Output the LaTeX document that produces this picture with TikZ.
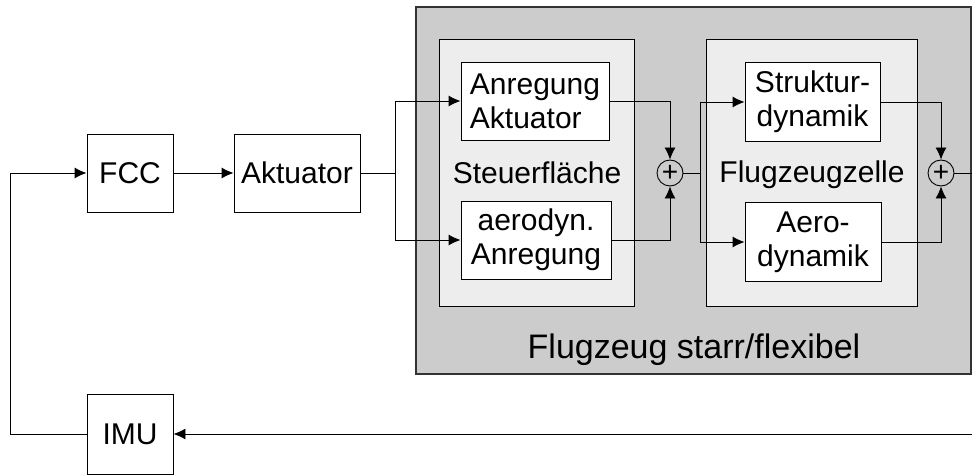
\documentclass[tikz,border=0pt]{standalone}
\usepackage{fontspec}
\setmainfont{Liberation Sans}
\usetikzlibrary{arrows.meta}

\begin{document}
\begin{tikzpicture}[x=1pt,y=-1pt,>={Latex[length=12pt,width=11pt]},line width=0.9pt,
  font=\fontsize{30}{34}\selectfont,
  block/.style={draw,fill=white,inner sep=0pt,align=center,minimum height=78pt},
  frame/.style={draw,fill=black!7,inner sep=0pt,minimum width=#1,minimum height=267pt},
  sum/.style={draw,circle,inner sep=0pt,minimum size=26pt,font=\fontsize{28}{28}\selectfont}]
  \useasboundingbox (0,0) rectangle (972,476);
  \node[draw=black!80,line width=1.3pt,fill=black!20,minimum width=555pt,minimum height=367pt,inner sep=0pt] (plane) at (693.5,190.5) {};
  \node[frame=195pt] (flaeche) at (536.5,172.5) {};
  \node[frame=211pt] (zelle) at (811.5,172.5) {};
  \node at (694,350) {\fontsize{34}{38}\selectfont Flugzeug starr/flexibel};
  \node at (537,173) {Steuerfläche};
  \node at (812,175) {Flugzeugzelle};

  \node[block,minimum width=86pt] (fcc) at (130,173) {FCC};
  \node[block,minimum width=126pt] (akt) at (297,173) {Aktuator};
  \node[block,minimum width=86pt,minimum height=80pt] (imu) at (130,434) {IMU};
  \node[block,minimum width=148pt,align=left] (anrakt) at (535,101) {Anregung\\Aktuator};
  \node[block,minimum width=150pt] (aerodyn) at (536,240) {aerodyn.\\Anregung};
  \node[block,minimum width=135pt,minimum height=79pt] (struktur) at (812.5,102) {Struktur-\\dynamik};
  \node[block,minimum width=136pt,minimum height=79pt] (aero) at (813,242) {Aero-\\dynamik};
  \node[sum] (sum1) at (670,173) {+};
  \node[sum] (sum2) at (941,173) {+};

  \coordinate (split1) at (395,173);
  \coordinate (split2) at (700,173);
  \coordinate (out) at (972,173);
  \coordinate (fb) at (972,434);
  \coordinate (back) at (10,434);

  \draw[->] (fcc) -- (akt);
  \draw (akt) -- (split1);
  \draw[->] (split1) |- (anrakt.west);
  \draw[->] (split1) |- (aerodyn.west);
  \draw[->] (anrakt.east) -| (sum1.north);
  \draw[->] (aerodyn.east) -| (sum1.south);
  \draw (sum1) -- (split2);
  \draw[->] (split2) |- (struktur.west);
  \draw[->] (split2) |- (aero.west);
  \draw[->] (struktur.east) -| (sum2.north);
  \draw[->] (aero.east) -| (sum2.south);
  \draw (sum2) -- (out);
  \draw[->] (fb) -- (imu.east);
  \draw[->] (imu.west) -- (back) |- (fcc.west);
\end{tikzpicture}
\end{document}
